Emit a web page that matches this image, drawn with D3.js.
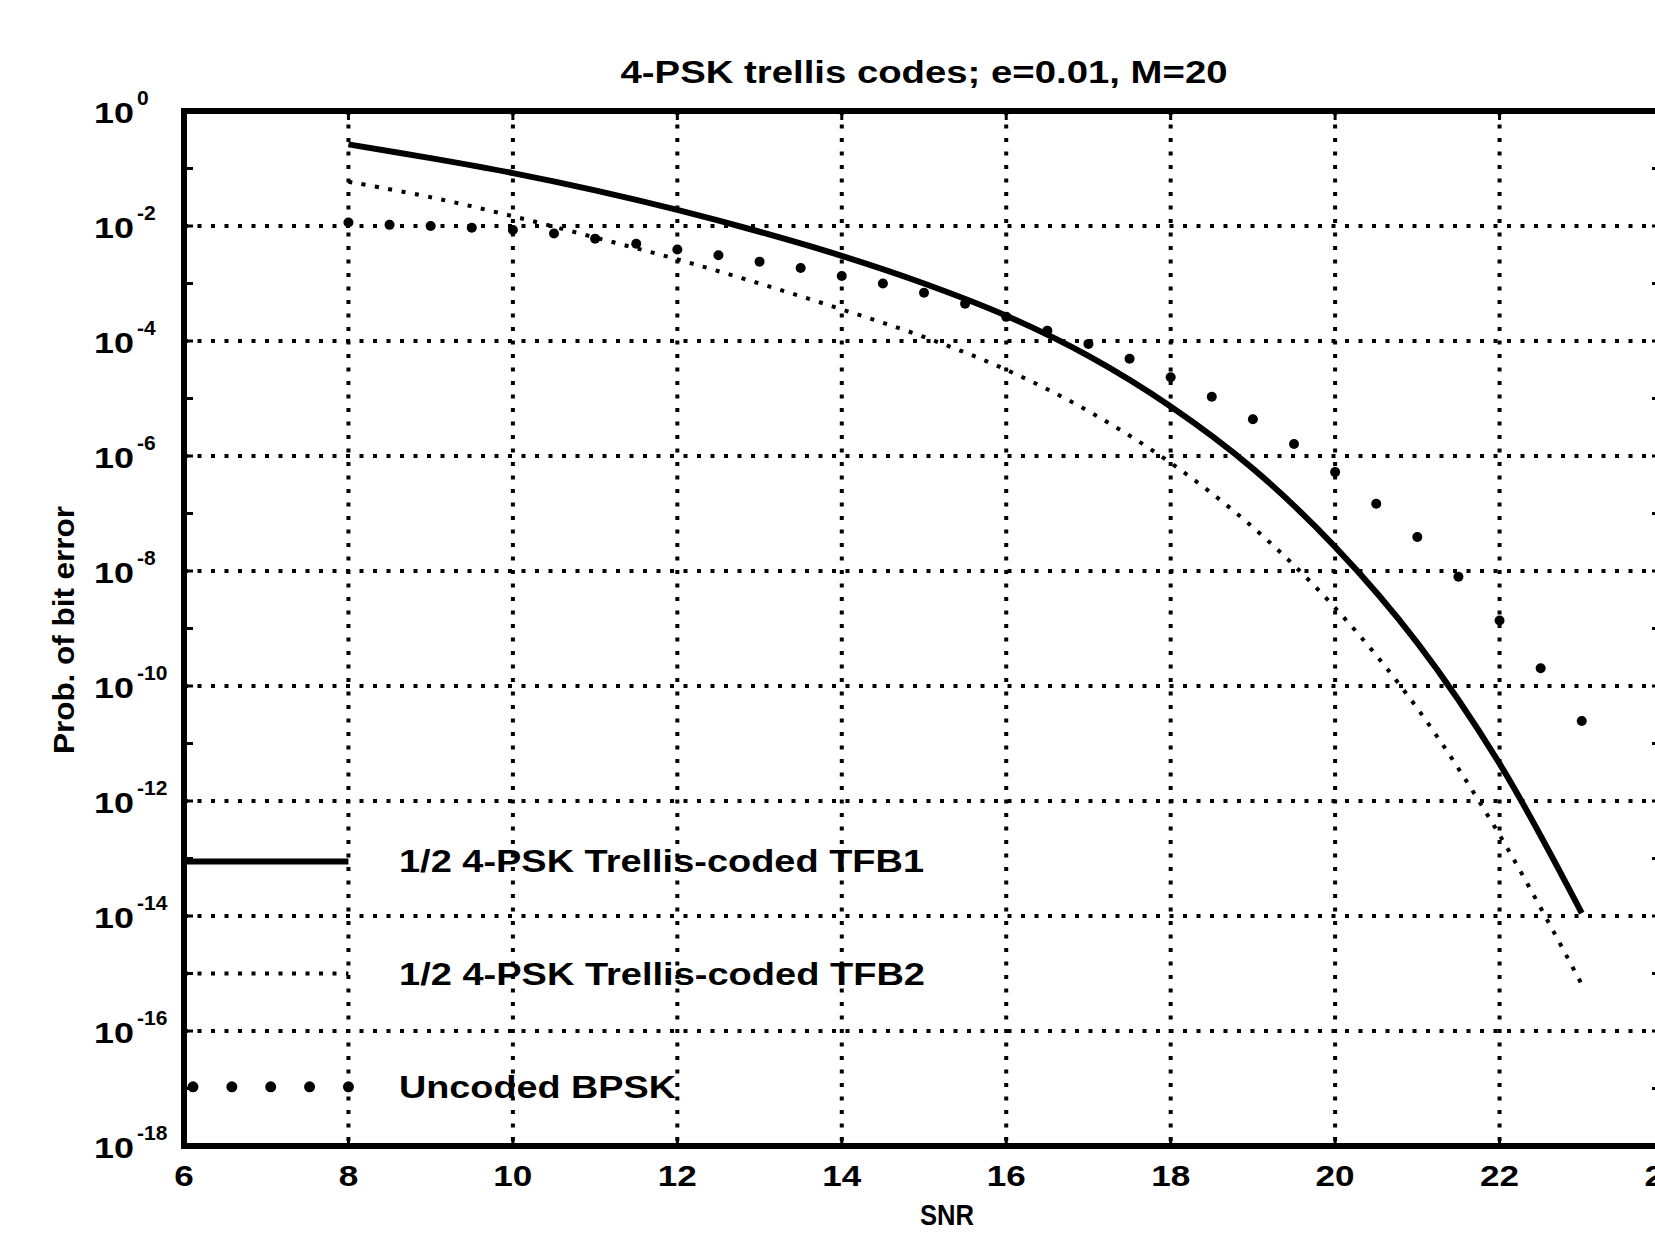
<!DOCTYPE html>
<html>
<head>
<meta charset="utf-8">
<script src="https://cdn.jsdelivr.net/npm/d3@7"></script>
<style>
  html, body { margin: 0; padding: 0; background: #fff; }
  svg { display: block; }
</style>
</head>
<body>
<div id="chart"></div>
<script>
// ---- data (log10 of bit error prob) ----
var snr_coded = [8, 9, 10, 11, 12, 13, 14, 15, 16, 17, 18, 19, 20, 21, 22, 23];
var log_tfb1 = [-0.58, -0.82, -1.08, -1.38, -1.72, -2.1, -2.52, -3.0, -3.56, -4.26, -5.14, -6.22, -7.58, -9.25, -11.35, -13.95];
var log_tfb2 = [-1.23, -1.5, -1.83, -2.2, -2.58, -3.0, -3.45, -3.93, -4.5, -5.22, -6.12, -7.24, -8.64, -10.39, -12.59, -15.19];

var snr_bpsk = [8, 8.5, 9, 9.5, 10, 10.5, 11, 11.5, 12, 12.5, 13, 13.5, 14, 14.5, 15, 15.5,
                16, 16.5, 17, 17.5, 18, 18.5, 19, 19.5, 20, 20.5, 21, 21.5, 22, 22.5, 23];
var log_bpsk = [-1.94, -1.98, -2.0, -2.03, -2.07, -2.13, -2.22, -2.31, -2.41, -2.51, -2.62, -2.73, -2.87, -3.0, -3.16, -3.35,
                -3.58, -3.82, -4.05, -4.31, -4.63, -4.97, -5.36, -5.79, -6.28, -6.83, -7.41, -8.1, -8.86, -9.69, -10.61];

var x_ticks = [6, 8, 10, 12, 14, 16, 18, 20, 22, 24];
var y_tick_exps = [0, -2, -4, -6, -8, -10, -12, -14, -16, -18];

var legend_labels = ["1/2 4-PSK Trellis-coded TFB1", "1/2 4-PSK Trellis-coded TFB2", "Uncoded BPSK"];
var title_text = "4-PSK trellis codes; e=0.01, M=20";
var x_label = "SNR";
var y_label = "Prob. of bit error";

// ---- layout ----
// (careful: "top" is window.top, so use ax_ names)
var W = 1655, H = 1238;
var ax_left = 184, ax_right = 1664, ax_top = 111, ax_bottom = 1146;
var font = "'Liberation Sans', Arial, Helvetica, sans-serif";
var dots = "4,9.5";

var svg = d3.select("#chart").append("svg")
  .attr("width", W).attr("height", H);

svg.append("rect").attr("width", W).attr("height", H).style("fill", "#fff");

var x = d3.scaleLinear().domain([6, 24]).range([ax_left, ax_right]);
var y = d3.scaleLog().domain([1, 1e-18]).range([ax_top, ax_bottom]);
var p = function(e) { return Math.pow(10, e); };

// dotted grid (matlab style)
var grid = svg.append("g");
grid.selectAll(".gx").data(x_ticks.slice(1, -1)).enter().append("line")
  .attr("x1", function(d) { return x(d); }).attr("x2", function(d) { return x(d); })
  .attr("y1", ax_top).attr("y2", ax_bottom)
  .style("stroke", "#000").style("stroke-width", 4).style("stroke-dasharray", dots);
grid.selectAll(".gy").data(y_tick_exps.slice(1, -1)).enter().append("line")
  .attr("x1", ax_left).attr("x2", ax_right)
  .attr("y1", function(d) { return y(p(d)); }).attr("y2", function(d) { return y(p(d)); })
  .style("stroke", "#000").style("stroke-width", 4).style("stroke-dasharray", dots);

// ticks, every decade on y, majors on x
var decades = d3.range(0, -19, -1);
var ticks = svg.append("g");
ticks.selectAll(".ty").data(decades).enter().append("line")
  .attr("x1", ax_left).attr("x2", ax_left + 9)
  .attr("y1", function(d) { return y(p(d)); }).attr("y2", function(d) { return y(p(d)); })
  .style("stroke", "#000").style("stroke-width", 3);
ticks.selectAll(".tyr").data(decades).enter().append("line")
  .attr("x1", ax_right).attr("x2", ax_right - 12)
  .attr("y1", function(d) { return y(p(d)); }).attr("y2", function(d) { return y(p(d)); })
  .style("stroke", "#000").style("stroke-width", 3);
ticks.selectAll(".tx").data(x_ticks).enter().append("line")
  .attr("x1", function(d) { return x(d); }).attr("x2", function(d) { return x(d); })
  .attr("y1", ax_bottom).attr("y2", ax_bottom - 9)
  .style("stroke", "#000").style("stroke-width", 3);
ticks.selectAll(".txt").data(x_ticks).enter().append("line")
  .attr("x1", function(d) { return x(d); }).attr("x2", function(d) { return x(d); })
  .attr("y1", ax_top).attr("y2", ax_top + 9)
  .style("stroke", "#000").style("stroke-width", 3);

// curves
var line = d3.line()
  .x(function(d) { return x(d[0]); })
  .y(function(d) { return y(p(d[1])); })
  .curve(d3.curveCatmullRom.alpha(0.5));

svg.append("path").datum(d3.zip(snr_coded, log_tfb1))
  .attr("d", line)
  .style("fill", "none").style("stroke", "#000").style("stroke-width", 6);

svg.append("path").datum(d3.zip(snr_coded, log_tfb2))
  .attr("d", line)
  .style("fill", "none").style("stroke", "#000").style("stroke-width", 4)
  .style("stroke-dasharray", dots);

svg.selectAll(".bpsk").data(d3.zip(snr_bpsk, log_bpsk)).enter().append("circle")
  .attr("cx", function(d) { return x(d[0]); })
  .attr("cy", function(d) { return y(p(d[1])); })
  .attr("r", 5).style("fill", "#000");

// frame (right edge falls off the page like in the scan)
svg.append("rect")
  .attr("x", ax_left).attr("y", ax_top).attr("width", ax_right - ax_left).attr("height", ax_bottom - ax_top)
  .style("fill", "none").style("stroke", "#000").style("stroke-width", 6);

// y tick labels: base 10 + superscript
var yl = svg.append("g").style("font-family", font).style("font-weight", "bold");
y_tick_exps.forEach(function(e) {
  var t = yl.append("text")
    .attr("x", 94).attr("y", y(p(e)) + 12)
    .style("font-size", "30px");
  t.append("tspan").attr("textLength", 40).attr("lengthAdjust", "spacingAndGlyphs").text("10");
  t.append("tspan").attr("dx", 3).attr("dy", -18).style("font-size", "21px").text(e === 0 ? "0" : String(e));
});

svg.append("g").selectAll("text").data(x_ticks).enter().append("text")
  .attr("x", function(d) { return x(d); }).attr("y", ax_bottom + 40)
  .attr("text-anchor", "middle")
  .attr("textLength", function(d) { return String(d).length * 19.5; })
  .attr("lengthAdjust", "spacingAndGlyphs")
  .style("font-family", font).style("font-weight", "bold").style("font-size", "30px")
  .text(function(d) { return d; });

// title + axis labels
svg.append("text")
  .attr("x", (ax_left + ax_right) / 2).attr("y", 83)
  .attr("text-anchor", "middle")
  .attr("textLength", 607).attr("lengthAdjust", "spacingAndGlyphs")
  .style("font-family", font).style("font-weight", "bold").style("font-size", "32px")
  .text(title_text);

svg.append("text")
  .attr("x", (ax_left + ax_right) / 2 + 23).attr("y", 1225)
  .attr("text-anchor", "middle")
  .attr("textLength", 54).attr("lengthAdjust", "spacingAndGlyphs")
  .style("font-family", font).style("font-weight", "bold").style("font-size", "30px")
  .text(x_label);

svg.append("text")
  .attr("transform", "translate(74," + 630 + ") rotate(-90)")
  .attr("text-anchor", "middle")
  .attr("textLength", 248).attr("lengthAdjust", "spacingAndGlyphs")
  .style("font-family", font).style("font-weight", "bold").style("font-size", "29px")
  .text(y_label);

// legend (sits inside the axes, no box)
var leg_y = [y(p(-13.05)), y(p(-15.0)), y(p(-16.97))];
var leg_x0 = ax_left, leg_x1 = x(8);
var leg = svg.append("g");
leg.append("line").attr("x1", leg_x0).attr("x2", leg_x1).attr("y1", leg_y[0]).attr("y2", leg_y[0])
  .style("stroke", "#000").style("stroke-width", 6);
leg.append("line").attr("x1", leg_x0).attr("x2", leg_x1).attr("y1", leg_y[1]).attr("y2", leg_y[1])
  .style("stroke", "#000").style("stroke-width", 4).style("stroke-dasharray", dots);
leg.selectAll(".ld").data(d3.range(5)).enter().append("circle")
  .attr("cx", function(i) { return leg_x0 + 9 + i * (leg_x1 - leg_x0 - 9) / 4; })
  .attr("cy", leg_y[2]).attr("r", 5.5).style("fill", "#000");

var leg_len = [525, 526, 277];
leg.selectAll(".lt").data(legend_labels).enter().append("text")
  .attr("x", 399).attr("y", function(d, i) { return leg_y[i] + 11; })
  .attr("textLength", function(d, i) { return leg_len[i]; }).attr("lengthAdjust", "spacingAndGlyphs")
  .style("font-family", font).style("font-weight", "bold").style("font-size", "32px")
  .text(function(d) { return d; });
</script>
</body>
</html>
